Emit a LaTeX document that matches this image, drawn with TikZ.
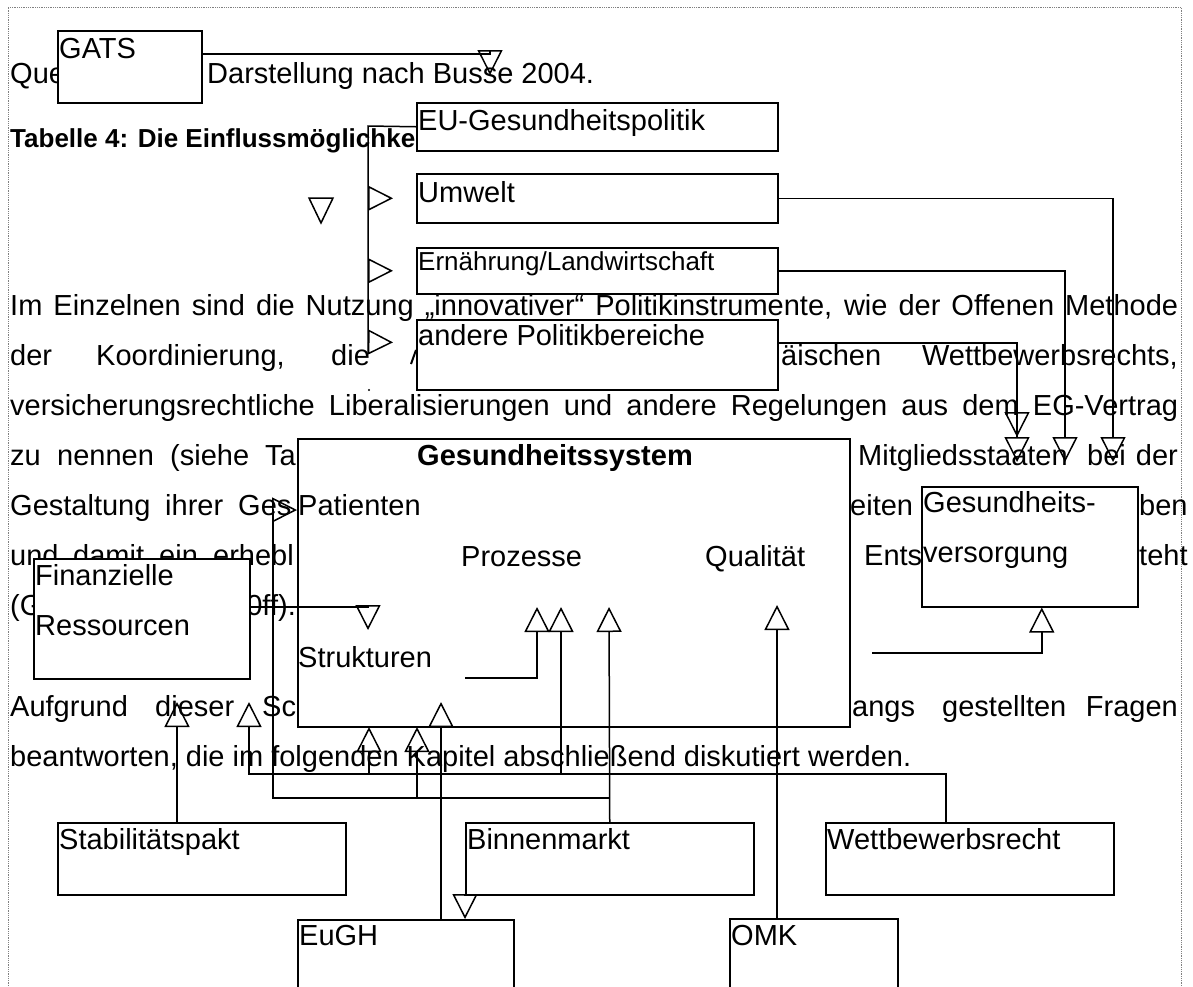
\documentclass[tikz,border=0pt]{standalone}
\usepackage{fontspec}
\setmainfont{Liberation Sans}
\usetikzlibrary{arrows.meta}
\tikzset{
  box/.style={draw, fill=white, line width=1.5pt, anchor=north west, inner sep=0pt},
  txt/.style={anchor=base west, inner sep=0pt, font=\fontsize{29}{50}\selectfont},
  gen/.style={-{Triangle[open, length=25pt, width=25pt]}, line width=1.5pt},
  wire/.style={line width=1.5pt},
}
\begin{document}
\begin{tikzpicture}[x=1pt, y=-1pt]
\useasboundingbox (0,0) rectangle (1193,986);
\draw[gray, densely dotted, line width=0.8pt] (8,986) -- (8,7) -- (1181,7) -- (1181,986);

% page text behind the diagram
\node[txt] (q1) at (10,83) {Que};
\node[txt] (q2) at (207,83) {Darstellung nach Busse 2004.};
\node[txt, font=\bfseries\fontsize{26}{30}\selectfont] (tab) at (10,147) {Tabelle 4: Die Einflussmöglichke};
\node[txt] (l1) at (10,315) {\makebox[1168pt][s]{Im Einzelnen sind die Nutzung „innovativer“ Politikinstrumente, wie der Offenen Methode}};
\node[txt] (l2a) at (10,365) {der};
\node[txt] (l2b) at (96,365) {Koordinierung,};
\node[txt] (l2c) at (331,365) {die};
\draw[line width=2pt] (411,364) -- (416,350);
\node[txt] (l2e) at (781,365) {äischen};
\node[txt, anchor=base east] (l2f) at (1178,365) {Wettbewerbsrechts,};
\node[txt] (l3) at (10,415) {\makebox[1168pt][s]{versicherungsrechtliche Liberalisierungen und andere Regelungen aus dem EG-Vertrag}};
\node[txt] (l4a) at (10,465) {zu};
\node[txt] (l4b) at (57,465) {nennen};
\node[txt] (l4c) at (170,465) {(siehe};
\node[txt] (l4d) at (265,465) {Ta};
\node[txt] (l4e) at (858,465) {Mitgliedsstaaten};
\node[txt] (l4f) at (1087,465) {bei};
\node[txt, anchor=base east] (l4g) at (1178,465) {der};
\node[txt] (l5a) at (10,515) {Gestaltung};
\node[txt] (l5b) at (165,515) {ihrer};
\node[txt] (l5c) at (238,515) {Ges};
\node[txt] (l5d) at (850,515) {eiten};
\node[txt] (l5e) at (1139,515) {ben};
\node[txt] (l6a) at (10,565) {und};
\node[txt] (l6b) at (73,565) {damit};
\node[txt] (l6c) at (159,565) {ein};
\node[txt, anchor=base east] (l6d) at (294,565) {erhebl};
\node[txt] (l6e) at (864,565) {Ents};
\node[txt] (l6f) at (1139,565) {teht};
\node[txt] (l7a) at (10,615) {(G};
\node[txt, anchor=base east] (l7b) at (296,615) {0ff).};
\node[txt] (l8a) at (10,716) {Aufgrund};
\node[txt] (l8b) at (155,716) {dieser};
\node[txt] (l8c) at (262,716) {Sch};
\node[txt] (l8d) at (852,716) {angs};
\node[txt] (l8e) at (942,716) {gestellten};
\node[txt, anchor=base east] (l8f) at (1178,716) {Fragen};
\node[txt] (l9) at (10,766) {beantworten, die im folgenden Kapitel abschließend diskutiert werden.};

% boxes
\node[box, minimum width=144pt, minimum height=72pt] (gats) at (57,30) {};
\node[box, minimum width=361pt, minimum height=48pt] (eu) at (416,102) {};
\node[box, minimum width=361pt, minimum height=49pt] (umw) at (416,173) {};
\node[box, minimum width=361pt, minimum height=46pt] (ern) at (416,247) {};
\node[box, minimum width=361pt, minimum height=70pt] (and) at (416,319) {};
\node[box, minimum width=552pt, minimum height=288pt] (gs) at (297,438) {};
\node[box, minimum width=216pt, minimum height=120pt] (gv) at (921,486) {};
\node[box, minimum width=216pt, minimum height=120pt] (fin) at (33,558) {};
\node[box, minimum width=288pt, minimum height=72pt] (stab) at (57,822) {};
\node[box, minimum width=288pt, minimum height=72pt] (bin) at (465,822) {};
\node[box, minimum width=288pt, minimum height=72pt] (wett) at (825,822) {};
\node[box, minimum width=216pt, minimum height=100pt] (eugh) at (297,919) {};
\node[box, minimum width=168pt, minimum height=100pt] (omk) at (729,918) {};

\node[txt] (gatsT) at (59,58) {GATS};
\node[txt] (euT) at (418,130) {EU-Gesundheitspolitik};
\node[txt] (umwT) at (418,202) {Umwelt};
\node[txt, font=\fontsize{26}{30}\selectfont] (ernT) at (418,270) {Ernährung/Landwirtschaft};
\node[txt] (andT) at (418,345) {andere Politikbereiche};
\node[txt, font=\bfseries\fontsize{29}{50}\selectfont] (gsT) at (417,465) {Gesundheitssystem};
\node[txt] (patT) at (298,515) {Patienten};
\node[txt] (proT) at (461,566) {Prozesse};
\node[txt] (quaT) at (705,566) {Qualität};
\node[txt] (strT) at (298,667) {Strukturen};
\node[txt] (gvT1) at (923,512) {Gesundheits-};
\node[txt] (gvT2) at (923,562) {versorgung};
\node[txt] (finT1) at (35,585) {Finanzielle};
\node[txt] (finT2) at (35,635) {Ressourcen};
\node[txt] (stabT) at (59,849) {Stabilitätspakt};
\node[txt] (binT) at (467,849) {Binnenmarkt};
\node[txt] (wettT) at (827,849) {Wettbewerbsrecht};
\node[txt] (eughT) at (299,945) {EuGH};
\node[txt] (omkT) at (731,945) {OMK};

% connectors
\coordinate (trunk) at (368,126);
\coordinate (gsout) at (872,653);
\coordinate (strout) at (465,678);
\draw[gen] ([yshift=13pt]gats.east) -| (490,75);
\draw[wire, line join=miter] (309,198) -- (333,198) -- (321,223) -- cycle;
\draw[wire] (eu.west) -- (trunk) -- (368,354);
\draw[gen, shorten >=23pt] (trunk |- umw.west) -- (umw.west);
\draw[gen, shorten >=23pt] (trunk |- ern.west) -- (ern.west);
\draw[gen, shorten >=23pt] (368,342) -- ([yshift=12pt]and.west);
\fill (369,390) circle (1.2);
\draw[gen] (umw.east) -| (1113,462);
\draw[gen] (ern.east) -| (1065,462);
\draw[gen] ([yshift=12pt]and.east) -| (1017,437);
\draw[gen] ([yshift=12pt]and.east) -| (1017,462);
\draw[gen] (gsout) -| ([xshift=12pt]gv.south);
\draw[gen] ([yshift=12pt]fin.east) -| (368,630);
\draw[gen] (strout) -| (537,607);
\draw[gen] ([xshift=-24pt]wett.north) |- (249,774) -- (249,702);
\draw[gen] (369,774) -- (369,727);
\draw[gen] (561,774) -- (561,607);
\draw[gen] (bin.north) -- (609,607);
\draw[gen] (609,798) -| (273,510) -- (gs.west |- 0,510);
\draw[gen] (417,798) -- (417,727);
\draw[gen] ([xshift=144pt]eugh.north west) -- (441,702);
\draw[gen] (bin.south west) -- (bin.south west |- eugh.north);
\draw[gen] ([xshift=48pt]omk.north west) -- (777,605);
\draw[gen] ([xshift=120pt]stab.north west) -- (177,702);
\end{tikzpicture}
\end{document}
